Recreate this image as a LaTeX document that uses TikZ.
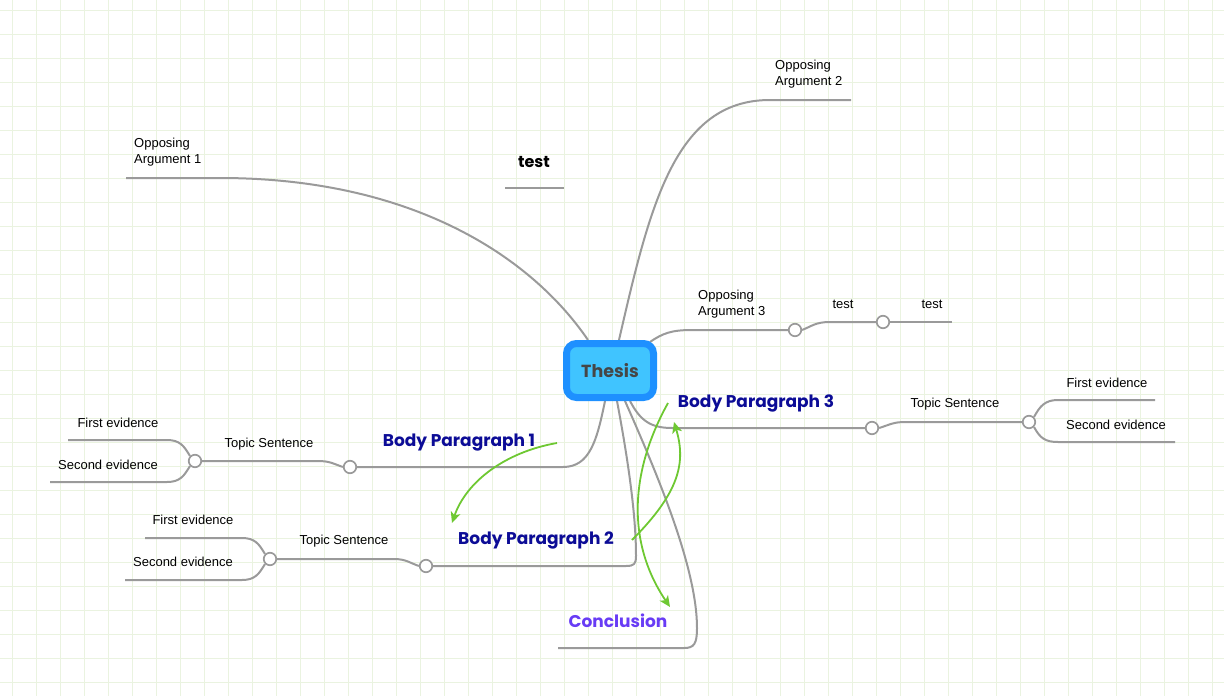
\documentclass[tikz,border=0pt]{standalone}
\usepackage{fontspec}
\setmainfont{Liberation Sans}
\newfontfamily\pop{Poppins}
\usetikzlibrary{arrows.meta}
\definecolor{gridc}{RGB}{234,243,224}
\definecolor{linec}{RGB}{154,154,154}
\definecolor{bpblue}{RGB}{12,12,150}
\definecolor{concl}{RGB}{104,60,245}
\definecolor{arrg}{RGB}{110,200,50}
\definecolor{thout}{RGB}{30,144,255}
\definecolor{thin}{RGB}{64,196,255}
\definecolor{thtext}{RGB}{70,70,70}
\tikzset{
  conn/.style={draw=linec, line width=2pt},
  knob/.style={circle, draw=linec, line width=1.7pt, fill=white, minimum size=12.5pt, inner sep=0pt},
  small/.style={font=\fontsize{13}{16}\selectfont, text=black, inner sep=0pt, align=left},
  bp/.style={font=\pop\bfseries\fontsize{17}{20}\selectfont, text=bpblue, inner sep=0pt},
  flow/.style={draw=arrg, line width=1.8pt, -{Stealth[length=11pt,width=10pt,inset=3pt]}},
}
\begin{document}
\begin{tikzpicture}[x=1pt,y=-1pt]
\useasboundingbox (0,0) rectangle (1224,696);
% grid
\foreach \x in {12,36,...,1212} \draw[gridc, line width=1pt] (\x,0) -- (\x,696);
\foreach \y in {10,34,...,682} \draw[gridc, line width=1pt] (0,\y) -- (1224,\y);

% coordinates on thesis border
\coordinate (tOA1) at (588,340);
\coordinate (tOA2) at (619,340);
\coordinate (tOA3) at (650,342);
\coordinate (tBP1) at (605,401);
\coordinate (tBP2) at (617,401);
\coordinate (tCON) at (625,401);
\coordinate (tBP3) at (630,401);

% Opposing argument 1
\coordinate (oa1end) at (126,178);
\draw[conn] (tOA1) .. controls (530,255) and (410,178) .. (220,178) -- (oa1end);
\node[small, anchor=west] (oa1) at (134,152.5) {Opposing\\Argument 1};

% Opposing argument 2
\coordinate (oa2end) at (851,100);
\draw[conn] (tOA2) .. controls (650,205) and (675,100) .. (770,100) -- (oa2end);
\node[small, anchor=west] (oa2) at (775,74.5) {Opposing\\Argument 2};

% Opposing argument 3
\node[knob] (k3a) at (795,330) {};
\node[knob] (k3b) at (883,322) {};
\coordinate (oa3end) at (952,322);
\draw[conn] (tOA3) .. controls (663,333) and (672,330) .. (692,330) -- (k3a.west);
\draw[conn] (k3a.east) .. controls (812,326) and (816,322) .. (830,322) -- (k3b.west);
\draw[conn] (k3b.east) -- (oa3end);
\node[small, anchor=west] (oa3) at (698,304.5) {Opposing\\Argument 3};
\node[small] (t3a) at (843,304) {test};
\node[small] (t3b) at (932,304) {test};

% Body paragraph 3
\node[knob] (k4a) at (872,428) {};
\node[knob] (k4b) at (1029,422) {};
\coordinate (e4a) at (1155,400);
\coordinate (e4b) at (1175,442);
\draw[conn] (tBP3) .. controls (640,420) and (650,428) .. (672,428) -- (k4a.west);
\draw[conn] (k4a.east) .. controls (889,425) and (893,422) .. (905,422) -- (k4b.west);
\draw[conn] (k4b.north east) .. controls (1040,406) and (1045,400) .. (1058,400) -- (e4a);
\draw[conn] (k4b.south east) .. controls (1040,438) and (1045,442) .. (1058,442) -- (e4b);
\node[bp] (bp3) at (756,403) {Body Paragraph 3};
\node[small] (ts3) at (955,404) {Topic Sentence};
\node[small] (fe3) at (1107,383) {First evidence};
\node[small] (se3) at (1116,425) {Second evidence};

% Body paragraph 1
\node[knob] (k1a) at (350,467) {};
\node[knob] (k1b) at (195,461) {};
\coordinate (e1a) at (68,440);
\coordinate (e1b) at (50,482);
\draw[conn] (tBP1) .. controls (597,440) and (590,467) .. (563,467) -- (k1a.east);
\draw[conn] (k1a.west) .. controls (334,464) and (330,461) .. (318,461) -- (k1b.east);
\draw[conn] (k1b.north west) .. controls (184,446) and (180,440) .. (167,440) -- (e1a);
\draw[conn] (k1b.south west) .. controls (184,476) and (180,482) .. (167,482) -- (e1b);
\node[bp] (bp1) at (459,443) {Body Paragraph 1};
\node[small] (ts1) at (269,444) {Topic Sentence};
\node[small] (fe1) at (118,423) {First evidence};
\node[small] (se1) at (108,465) {Second evidence};

% Body paragraph 2
\node[knob] (k2a) at (426,566) {};
\node[knob] (k2b) at (270,559) {};
\coordinate (e2a) at (145,538);
\coordinate (e2b) at (125,580);
\draw[conn] (tBP2) .. controls (630,470) and (636,520) .. (636,556) .. controls (636,564) and (634,566) .. (626,566) -- (k2a.east);
\draw[conn] (k2a.west) .. controls (410,563) and (406,559) .. (394,559) -- (k2b.east);
\draw[conn] (k2b.north west) .. controls (259,544) and (255,538) .. (242,538) -- (e2a);
\draw[conn] (k2b.south west) .. controls (259,574) and (255,580) .. (242,580) -- (e2b);
\node[bp] (bp2) at (536,540) {Body Paragraph 2};
\node[small] (ts2) at (344,541) {Topic Sentence};
\node[small] (fe2) at (193,520) {First evidence};
\node[small] (se2) at (183,562) {Second evidence};

% Conclusion
\coordinate (conend) at (558,648);
\draw[conn] (tCON) .. controls (660,480) and (697,570) .. (697,628) .. controls (697,644) and (694,648) .. (684,648) -- (conend);
\node[font=\pop\bfseries\fontsize{17}{20}\selectfont, text=concl, inner sep=0pt] (con) at (618,621) {Conclusion};

% floating test
\coordinate (tl1) at (505,188);
\coordinate (tl2) at (564,188);
\draw[conn] (tl1) -- (tl2);
\node[font=\pop\bfseries\fontsize{16}{20}\selectfont, text=black, inner sep=0pt] (ftest) at (534,162) {test};

% Thesis
\node[draw=thout, fill=thin, line width=7pt, rounded corners=10pt, minimum width=87pt, minimum height=54pt, inner sep=0pt,
  font=\pop\bfseries\fontsize{17.5}{20}\selectfont, text=thtext] (thesis) at (610,370.5) {Thesis};

% flow arrows
\coordinate (a1s) at (557,443);
\coordinate (a1e) at (452,523);
\coordinate (a2s) at (632,540);
\coordinate (a2e) at (674,422);
\coordinate (a3s) at (668,403);
\coordinate (a3e) at (670,607);
\draw[flow] (a1s) .. controls (505,452) and (466,482) .. (a1e);
\draw[flow] (a2s) .. controls (680,492) and (686,462) .. (a2e);
\draw[flow] (a3s) .. controls (628,475) and (628,545) .. (a3e);
\end{tikzpicture}
\end{document}
